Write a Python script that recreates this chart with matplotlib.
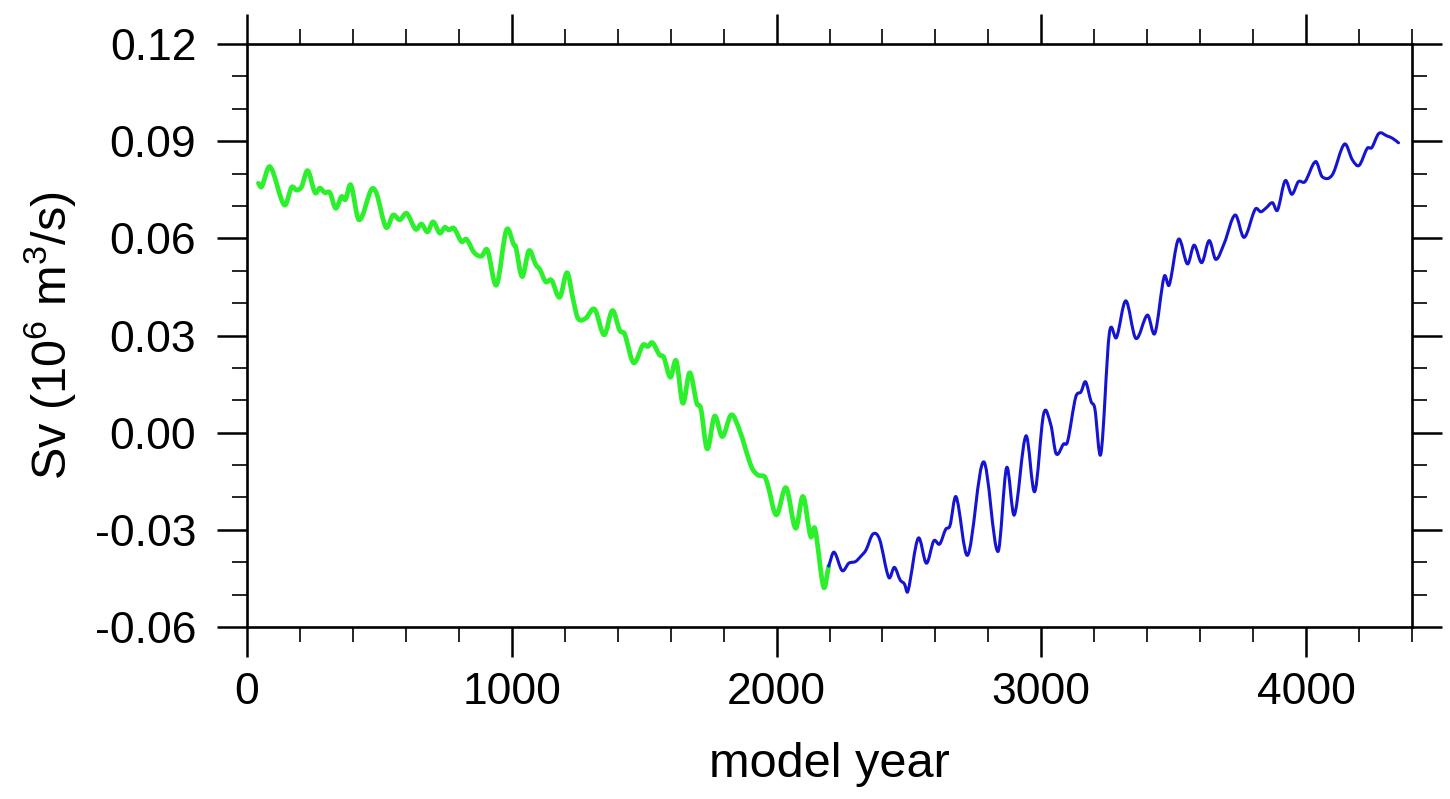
import matplotlib
matplotlib.use("Agg")
import matplotlib.pyplot as plt
import numpy as np
from matplotlib.path import Path
from matplotlib.patches import PathPatch
from matplotlib.ticker import MultipleLocator, FixedLocator, FormatStrFormatter

plt.rcParams['font.family'] = ['Liberation Sans', 'DejaVu Sans']
plt.rcParams['mathtext.default'] = 'regular'

# ---- data ----
green_years = [43, 55, 87, 141, 169, 187, 206, 229, 257, 275, 294, 313, 335, 357, 372, 392,
               423, 470, 489, 525, 552, 577, 603, 637, 659, 682, 703, 728, 747, 762, 782,
               810, 829, 858, 886, 908, 942, 980, 1008, 1015, 1039, 1065, 1091, 1106, 1128,
               1150, 1181, 1209, 1232, 1250, 1279, 1313, 1349, 1380, 1408, 1426, 1460, 1496,
               1514, 1531, 1558, 1574, 1599, 1621, 1646, 1672, 1699, 1714, 1738, 1766, 1795,
               1829, 1860, 1905, 1930, 1955, 1967, 1999, 2036, 2072, 2100, 2129, 2145, 2178,
               2197]
green_sv = [0.0770, 0.0759, 0.0821, 0.0703, 0.0758, 0.0749, 0.0759, 0.0809, 0.0741, 0.0755,
            0.0741, 0.0741, 0.0693, 0.0729, 0.0720, 0.0765, 0.0657, 0.0751, 0.0739, 0.0634,
            0.0672, 0.0657, 0.0677, 0.0628, 0.0644, 0.0620, 0.0651, 0.0616, 0.0634, 0.0626,
            0.0631, 0.0590, 0.0597, 0.0556, 0.0545, 0.0564, 0.0456, 0.0626, 0.0580, 0.0574,
            0.0482, 0.0562, 0.0518, 0.0504, 0.0466, 0.0471, 0.0418, 0.0494, 0.0410, 0.0353,
            0.0353, 0.0381, 0.0302, 0.0377, 0.0315, 0.0305, 0.0216, 0.0271, 0.0266, 0.0278,
            0.0240, 0.0233, 0.0171, 0.0222, 0.0091, 0.0185, 0.0090, 0.0075, -0.0050, 0.0051,
            -0.0012, 0.0055, 0.0008, -0.0105, -0.0131, -0.0136, -0.0162, -0.0254, -0.0170,
            -0.0295, -0.0197, -0.0321, -0.0296, -0.0477, -0.0412]

blue_years = [2197, 2217, 2248, 2273, 2298, 2319, 2338, 2364, 2389, 2424, 2445, 2467, 2483,
              2496, 2535, 2566, 2594, 2616, 2639, 2655, 2678, 2722, 2782, 2836, 2869, 2898,
              2942, 2975, 3009, 3036, 3056, 3084, 3099, 3130, 3150, 3167, 3188, 3202, 3225,
              3257, 3284, 3319, 3357, 3401, 3429, 3464, 3483, 3518, 3552, 3577, 3606, 3634,
              3659, 3691, 3732, 3766, 3808, 3829, 3848, 3873, 3892, 3921, 3946, 3971, 3996,
              4036, 4061, 4099, 4145, 4175, 4200, 4231, 4248, 4275, 4306, 4326, 4349]
blue_sv = [-0.0412, -0.0369, -0.0426, -0.0403, -0.0398, -0.0381, -0.0362, -0.0313, -0.0329,
           -0.0447, -0.0416, -0.0455, -0.0467, -0.0490, -0.0326, -0.0403, -0.0334, -0.0344,
           -0.0298, -0.0287, -0.0198, -0.0378, -0.0090, -0.0367, -0.0108, -0.0254, -0.0010,
           -0.0182, 0.0059, 0.0024, -0.0065, -0.0035, -0.0028, 0.0110, 0.0126, 0.0157,
           0.0096, 0.0075, -0.0065, 0.0307, 0.0294, 0.0407, 0.0291, 0.0363, 0.0307, 0.0482,
           0.0456, 0.0597, 0.0521, 0.0579, 0.0525, 0.0593, 0.0535, 0.0585, 0.0672, 0.0603,
           0.0690, 0.0682, 0.0693, 0.0710, 0.0687, 0.0778, 0.0736, 0.0775, 0.0775, 0.0837,
           0.0790, 0.0796, 0.0891, 0.0842, 0.0825, 0.0878, 0.0880, 0.0924, 0.0916, 0.0909,
           0.0895]

x_major = [0, 1000, 2000, 3000, 4000]
y_major = [-0.06, -0.03, 0.00, 0.03, 0.06, 0.09, 0.12]


def smooth_path(xs, ys, tension=0.5):
    """Bezier path through the data points (Catmull-Rom style tangents)."""
    p = np.column_stack([xs, ys]).astype(float)
    n = len(p)
    verts = [p[0]]
    codes = [Path.MOVETO]
    for i in range(n - 1):
        p0 = p[i - 1] if i > 0 else p[i]
        p1 = p[i]
        p2 = p[i + 1]
        p3 = p[i + 2] if i + 2 < n else p[i + 1]
        # tangents scaled to segment length in x to avoid overshoot
        d1 = (p2 - p0) / max(p2[0] - p0[0], 1e-9) * (p2[0] - p1[0])
        d2 = (p3 - p1) / max(p3[0] - p1[0], 1e-9) * (p2[0] - p1[0])
        c1 = p1 + d1 * tension / 1.5
        c2 = p2 - d2 * tension / 1.5
        verts += [c1, c2, p2]
        codes += [Path.CURVE4] * 3
    return Path(verts, codes)


# ---- figure ----
fig = plt.figure(figsize=(14.5, 7.99), dpi=100)
L, R, T, B = 247, 1412, 44, 627
ax = fig.add_axes([L / 1450, 1 - B / 799, (R - L) / 1450, (B - T) / 799])

ax.add_patch(PathPatch(smooth_path(green_years, green_sv), facecolor='none',
                       edgecolor='#2cf02c', lw=3.4, joinstyle='round', capstyle='round'))
ax.add_patch(PathPatch(smooth_path(blue_years, blue_sv), facecolor='none',
                       edgecolor='#1414d2', lw=2.2, joinstyle='round', capstyle='round'))

ax.set_xlim(0, 4400)
ax.set_ylim(-0.06, 0.12)
ax.xaxis.set_major_locator(FixedLocator(x_major))
ax.xaxis.set_minor_locator(MultipleLocator(200))
ax.yaxis.set_major_locator(FixedLocator(y_major))
ax.yaxis.set_minor_locator(MultipleLocator(0.01))
ax.yaxis.set_major_formatter(FormatStrFormatter('%.2f'))

for s in ax.spines.values():
    s.set_linewidth(1.9)

ax.tick_params(which='both', direction='out', top=True, right=True,
               labeltop=False, labelright=False)
ax.tick_params(which='major', length=21.5, width=1.8)
ax.tick_params(which='minor', length=10.5, width=1.2)
ax.tick_params(axis='x', which='major', labelsize=32, pad=11)
ax.tick_params(axis='y', which='major', labelsize=32, pad=15)

ax.set_xlabel('model year', fontsize=35)
ax.set_ylabel(r'Sv (10$^{6}$ m$^{3}$/s)', fontsize=35)
ax.xaxis.set_label_coords(0.5, -0.197)
ax.yaxis.set_label_coords(-0.145, 0.5)

fig.savefig('out.png', dpi=100)
